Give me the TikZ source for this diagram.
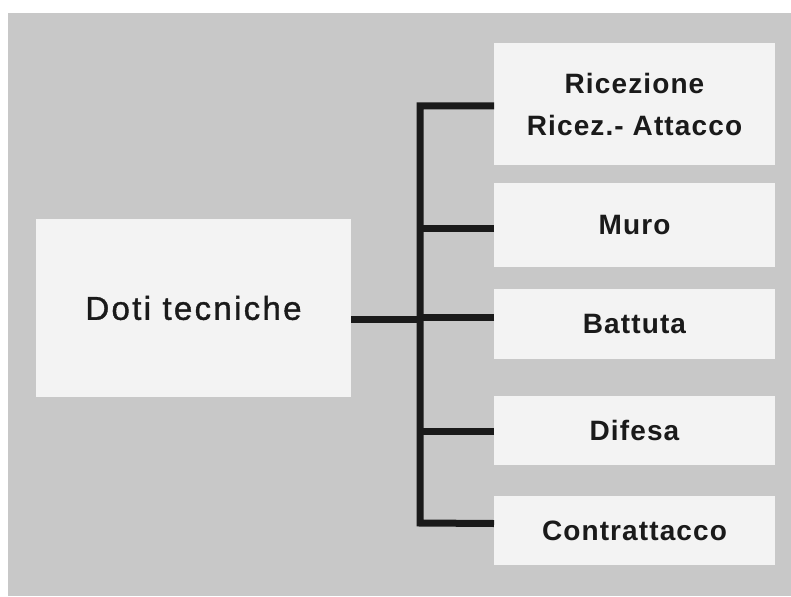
\documentclass[tikz,border=0pt]{standalone}
\usepackage{fontspec}
\usetikzlibrary{calc}
\newfontfamily\rootfont[LetterSpace=7,FakeBold=1.2]{Liberation Sans}
\newfontfamily\leaffont[LetterSpace=4]{Liberation Sans Bold}
\definecolor{panelgray}{HTML}{C8C8C8}
\definecolor{boxfill}{HTML}{F3F3F3}
\definecolor{ink}{HTML}{1A1A1A}
\begin{document}
\begin{tikzpicture}[x=1pt,y=-1pt,
  panel/.style={fill=boxfill,draw=none,inner sep=0pt,outer sep=0pt,anchor=north west,
    text=ink,align=center},
  leaf/.style={panel,minimum width=281pt,font=\leaffont\fontsize{28pt}{42pt}\selectfont},
  root/.style={panel,minimum width=315pt,minimum height=178pt,
    font=\rootfont\fontsize{33pt}{40pt}\selectfont},
  wire/.style={draw=ink,line width=7pt,line join=miter}]
  % page and grey panel
  \useasboundingbox (0,0) rectangle (791,596);
  \fill[white] (0,0) rectangle (791,596);
  \fill[panelgray] (8,13) rectangle (791,596);

  % boxes
  \node[root] (doti) at (36,219) {Doti tecniche};
  \node[leaf,minimum height=122pt] (ric) at (494,43) {Ricezione\\Ricez.- Attacco};
  \node[leaf,minimum height=84pt] (muro) at (494,183) {Muro};
  \node[leaf,minimum height=70pt] (bat) at (494,289) {Battuta};
  \node[leaf,minimum height=69pt] (dif) at (494,396) {Difesa};
  \node[leaf,minimum height=69pt] (con) at (494,496) {Contrattacco};

  % tree connectors (yshift is in page units: negative moves down)
  \coordinate (spinetop) at (420,106);
  \coordinate (spinebot) at (420,523);
  \draw[wire] ([yshift=-2pt]ric.west) -- (spinetop) -- (spinebot) -- ([yshift=7pt]con.west);
  \draw[wire] ([yshift=-3pt]muro.west) -- ([yshift=-3pt]muro.west -| spinetop);
  \draw[wire] ([yshift=7pt]bat.west) -- ([yshift=7pt]bat.west -| spinetop);
  \draw[wire] ([yshift=-1pt]dif.west) -- ([yshift=-1pt]dif.west -| spinetop);
  \draw[wire] ([yshift=-11pt]doti.east) -- ([yshift=-11pt]doti.east -| spinetop);
\end{tikzpicture}
\end{document}
